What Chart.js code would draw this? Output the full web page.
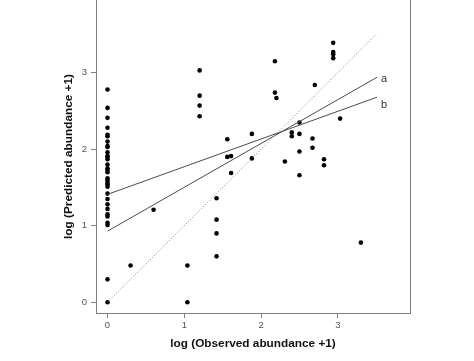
<!DOCTYPE html>
<html>
<head>
<meta charset="utf-8">
<script src="https://cdn.jsdelivr.net/npm/chart.js@4"></script>
<style>
  html, body { margin: 0; padding: 0; background: #fff; }
  #wrap { width: 474px; height: 361px; overflow: hidden; }
  #abundanceChart { display: block; margin-top: -4px; }
</style>
</head>
<body>
<div id="wrap"><canvas id="abundanceChart" width="474" height="365"></canvas></div>
<script>
// observed vs predicted, log scale values
const obsX = [
  0, 0, 0, 0, 0, 0, 0, 0, 0, 0, 0, 0, 0, 0, 0, 0,
  0, 0, 0, 0, 0, 0, 0, 0, 0, 0, 0, 0, 0, 0, 0, 0,
  0.30, 0.60, 1.04, 1.04,
  1.20, 1.20, 1.20, 1.20,
  1.42, 1.42, 1.42, 1.42,
  1.56, 1.56, 1.61, 1.61, 1.88, 1.88,
  2.18, 2.18, 2.20, 2.31, 2.40, 2.40,
  2.50, 2.50, 2.50, 2.50, 2.67, 2.67, 2.70,
  2.82, 2.82, 2.94, 2.94, 2.94, 2.94, 3.03, 3.30
];
const predY = [
  2.78, 2.54, 2.41, 2.28, 2.19, 2.17, 2.10, 2.04, 2.03, 1.96, 1.91, 1.90, 1.87, 1.80, 1.75, 1.73,
  1.70, 1.62, 1.59, 1.56, 1.54, 1.51, 1.42, 1.35, 1.28, 1.22, 1.15, 1.12, 1.04, 1.01, 0.30, 0,
  0.48, 1.21, 0.48, 0,
  3.03, 2.70, 2.57, 2.43,
  1.36, 1.08, 0.90, 0.60,
  2.13, 1.90, 1.91, 1.69, 2.20, 1.88,
  3.15, 2.74, 2.67, 1.84, 2.22, 2.17,
  2.35, 2.20, 1.97, 1.66, 2.14, 2.02, 2.84,
  1.87, 1.79, 3.39, 3.27, 3.24, 3.19, 2.40, 0.78
];

// fitted lines and the 1:1 line
const lineX = [0, 3.51];
const lineA = [0.93, 2.94];
const lineB = [1.41, 2.68];
const lineOne = [0, 3.51];
const lineNames = ['a', 'b'];
const tickValues = [0, 1, 2, 3];

const toPts = (xs, ys) => xs.map((x, i) => ({ x: x, y: ys[i] }));

const frameColor = '#808080';
const fontFamily = '"Liberation Sans", Arial, sans-serif';

// right edge of the box and the a / b labels
const extras = {
  id: 'extras',
  afterDraw(chart) {
    const { ctx, chartArea, scales } = chart;
    ctx.save();
    ctx.strokeStyle = frameColor;
    ctx.lineWidth = 1;
    ctx.beginPath();
    ctx.moveTo(chartArea.right + 0.5, 0);
    ctx.lineTo(chartArea.right + 0.5, chartArea.bottom + 0.5);
    ctx.stroke();

    ctx.fillStyle = '#333';
    ctx.font = '11px ' + fontFamily;
    ctx.textBaseline = 'middle';
    ctx.fillText(lineNames[0], scales.x.getPixelForValue(lineX[1]) + 4, scales.y.getPixelForValue(lineA[1]) + 2);
    ctx.fillText(lineNames[1], scales.x.getPixelForValue(lineX[1]) + 4, scales.y.getPixelForValue(lineB[1]) + 8);
    ctx.restore();
  }
};

new Chart(document.getElementById('abundanceChart'), {
  type: 'scatter',
  data: {
    datasets: [
      {
        data: toPts(lineX, lineOne),
        showLine: true,
        borderColor: '#7a7a7a',
        borderWidth: 1,
        borderDash: [1, 2],
        pointRadius: 0
      },
      {
        data: toPts(lineX, lineA),
        showLine: true,
        borderColor: '#4a4a4a',
        borderWidth: 1,
        pointRadius: 0
      },
      {
        data: toPts(lineX, lineB),
        showLine: true,
        borderColor: '#4a4a4a',
        borderWidth: 1,
        pointRadius: 0
      },
      {
        data: toPts(obsX, predY),
        backgroundColor: '#000',
        borderColor: '#000',
        pointRadius: 2.3,
        pointBorderWidth: 0
      }
    ]
  },
  options: {
    responsive: false,
    animation: false,
    layout: { padding: { left: 58, right: 64, top: 0, bottom: 6 } },
    plugins: {
      legend: { display: false },
      tooltip: { enabled: false }
    },
    scales: {
      x: {
        type: 'linear',
        min: -0.15,
        max: 3.94,
        afterFit: (s) => { s.height = 42; s.paddingLeft = 0; s.paddingRight = 0; },
        afterBuildTicks: (s) => { s.ticks = tickValues.map(v => ({ value: v })); },
        ticks: {
          padding: 2,
          color: '#555',
          font: { family: fontFamily, size: 9.5 }
        },
        grid: { drawOnChartArea: false, tickLength: 5, color: frameColor },
        border: { color: frameColor, width: 1 },
        title: {
          display: true,
          text: 'log (Observed abundance +1)',
          color: '#111',
          padding: 4,
          font: { family: fontFamily, size: 11.8, weight: 'bold' }
        }
      },
      y: {
        type: 'linear',
        min: -0.14,
        max: 3.95,
        afterFit: (s) => { s.width = 38; s.paddingTop = 0; s.paddingBottom = 0; },
        afterBuildTicks: (s) => { s.ticks = tickValues.map(v => ({ value: v })); },
        ticks: {
          padding: 4,
          color: '#555',
          font: { family: fontFamily, size: 9.5 }
        },
        grid: { drawOnChartArea: false, tickLength: 5, color: frameColor },
        border: { color: frameColor, width: 1 },
        title: {
          display: true,
          text: 'log (Predicted abundance +1)',
          color: '#111',
          padding: 4,
          font: { family: fontFamily, size: 11.8, weight: 'bold' }
        }
      }
    }
  },
  plugins: [extras]
});
</script>
</body>
</html>
